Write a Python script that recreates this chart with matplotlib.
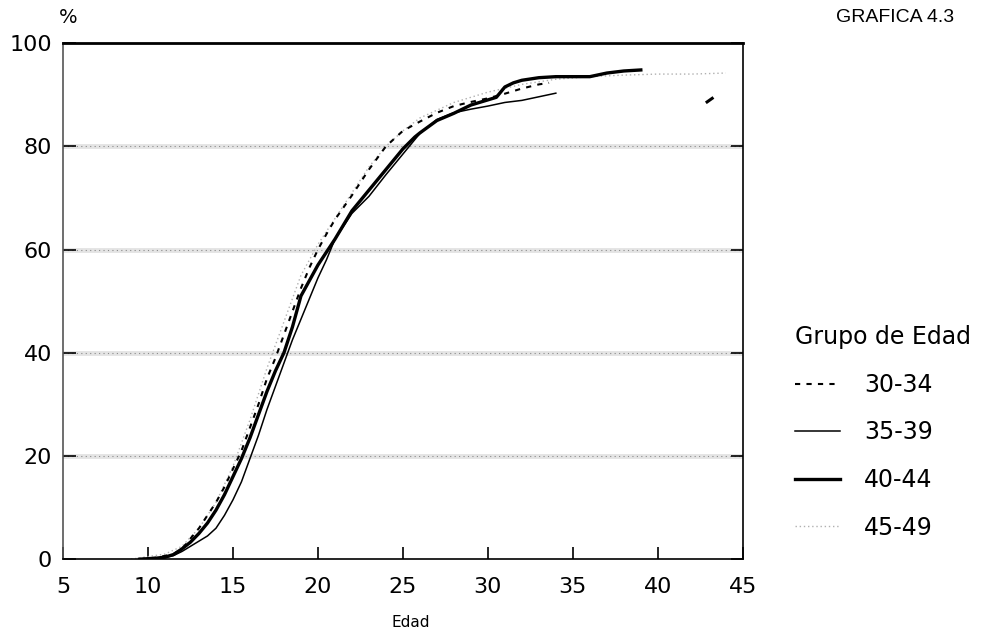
import numpy as np
from matplotlib import pyplot as plt

# Grupo de edad 30-34 (linea discontinua)
edad_30 = [9.5, 10.5, 11.5, 12, 12.5, 13, 13.5, 14, 14.5, 15, 15.5, 16, 16.5, 17, 17.5, 18,
           18.5, 19, 19.5, 20, 20.5, 21, 22, 23, 24, 25, 26, 27, 28, 29, 30, 31, 32, 33, 33.6]
pct_30 = [0, 0.3, 1, 2, 4, 6, 8.5, 11, 14, 17.5, 21, 25.5, 30, 35, 39, 43.5,
          48, 52.5, 56.5, 60, 63, 65.8, 70.5, 75.5, 80, 83, 84.8, 86.5, 87.8, 88.6, 89.3, 90.2, 91.2, 92, 92.3]

# Grupo de edad 35-39 (linea fina)
edad_35 = [9.5, 11, 11.5, 12, 12.5, 13, 13.5, 14, 14.5, 15, 15.5, 16, 16.5, 17, 17.5, 18,
           18.5, 19, 19.5, 20, 20.5, 21, 22, 23, 24, 25, 26, 27, 28, 29, 30, 31, 32, 33, 34]
pct_35 = [0, 0.3, 0.7, 1.5, 2.5, 3.5, 4.5, 6, 8.5, 11.5, 15, 19.5, 24, 29, 33.5, 38,
          42.5, 46.5, 50.5, 54.5, 58, 62, 67, 70.3, 74.5, 78.5, 82.5, 85.2, 86.5, 87.2, 87.8, 88.5, 88.9, 89.6, 90.3]

# Grupo de edad 40-44 (linea gruesa)
edad_40 = [9.5, 10.5, 11, 11.5, 12, 12.5, 13, 13.5, 14, 14.5, 15, 15.5, 16, 16.5, 17, 17.5, 18,
           18.5, 19, 19.5, 20, 20.5, 21, 22, 23, 24, 25, 25.7, 26, 27, 28, 29, 30, 30.5, 31,
           31.5, 32, 33, 34, 35, 36, 37, 38, 39]
pct_40 = [0, 0.2, 0.4, 0.9, 2, 3.3, 5, 7, 9.5, 12.5, 16, 19.5, 23.5, 28, 32.5, 36.5, 40,
          45, 51, 54, 57, 59.5, 62, 67.5, 71.5, 75.5, 79.5, 81.8, 82.6, 85, 86.4, 88, 89, 89.5, 91.5,
          92.3, 92.8, 93.3, 93.5, 93.5, 93.5, 94.2, 94.6, 94.8]

# Grupo de edad 45-49 (punteado claro)
edad_45 = [9, 10, 11, 12, 13, 14, 15, 16, 17, 18, 19, 20, 21, 22, 23, 24, 25, 26, 27, 28,
           29, 30, 32, 34, 36, 38, 40, 42, 44]
pct_45 = [0, 0.5, 1, 2.5, 6, 11, 18, 27, 37, 46, 55, 61, 66, 71, 76, 80, 83, 85.5, 87, 88.5,
          89.5, 90.5, 92, 93, 93.5, 93.8, 94, 94, 94.2]

# marca suelta cerca de los 43 anios
marca_x = [42.9, 43.2]
marca_y = [88.6, 89.3]

grupos = ["30-34", "35-39", "40-44", "45-49"]
x_ticks = [5, 10, 15, 20, 25, 30, 35, 40, 45]
y_ticks = [0, 20, 40, 60, 80, 100]
rejilla = [20, 40, 60, 80]

plt.rcParams['font.family'] = ['DejaVu Sans']

fig = plt.figure(figsize=(9.88, 6.34), dpi=100)
ax = fig.add_axes([0.0638, 0.118, 0.688, 0.814])

# rejilla gris difusa
for g in rejilla:
    ax.axhline(g, color="#e4e4e4", lw=3.5, zorder=1)
    ax.axhline(g, color="#8a8a8a", lw=0.8, ls=(0, (1, 3)), zorder=1)

l30, = ax.plot(edad_30, pct_30, c="black", lw=1.5, ls=(0, (2.5, 3)), zorder=3)
l35, = ax.plot(edad_35, pct_35, c="black", lw=1.1, zorder=3)
l40, = ax.plot(edad_40, pct_40, c="black", lw=2.4, zorder=4)
l45, = ax.plot(edad_45, pct_45, c="#b0b0b0", lw=1.0, ls=(0, (1, 2)), zorder=2)
ax.plot(marca_x, marca_y, c="black", lw=2.2, zorder=4)

ax.set_xlim(5, 45)
ax.set_ylim(0, 100)
ax.set_xticks(x_ticks)
ax.set_yticks(y_ticks)
ax.tick_params(axis="both", direction="in", labelsize=16, length=9, width=1.2)
ax.tick_params(axis="y", right=True, pad=8)
ax.tick_params(axis="x", pad=13)

for s in ["left", "right", "bottom"]:
    ax.spines[s].set_linewidth(1.2)
ax.spines["top"].set_linewidth(2.0)
ax.spines["left"].set_color("#555555")

ax.set_xlabel("Edad", fontsize=11)
ax.xaxis.set_label_coords(0.512, -0.108)
fig.text(0.069, 0.972, "%", fontsize=14, ha="center", va="center")
fig.text(0.966, 0.972, "GRAFICA 4.3", fontsize=14, ha="right", va="center",
         family="Liberation Sans")

leg = ax.legend([l30, l35, l40, l45], grupos, title="Grupo de Edad",
                loc="upper left", bbox_to_anchor=(0.805, 0.487),
                bbox_transform=fig.transFigure, frameon=False,
                fontsize=17, title_fontsize=17, alignment="left",
                handlelength=1.9, handletextpad=1.0, labelspacing=1.0,
                borderpad=0, borderaxespad=0)

fig.savefig("out.png", dpi=100)
